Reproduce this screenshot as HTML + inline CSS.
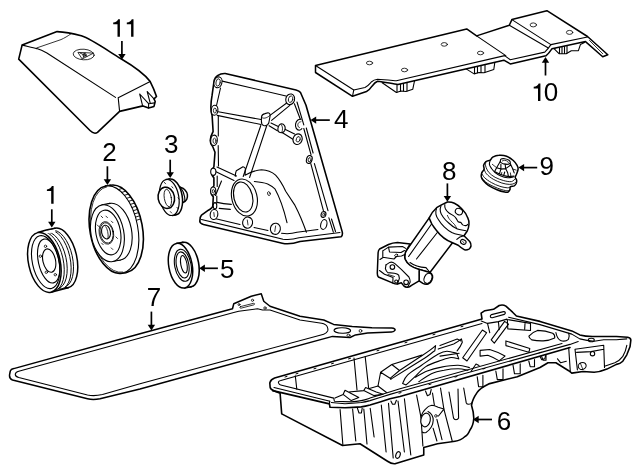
<!DOCTYPE html>
<html><head><meta charset="utf-8">
<style>
html,body{margin:0;padding:0;background:#fff;}
svg{display:block;}
text{font-family:"Liberation Sans",sans-serif;font-size:26px;fill:#000;}
.l{fill:none;stroke:#000;stroke-width:1.1;stroke-linecap:round;stroke-linejoin:round;}
.t{fill:none;stroke:#000;stroke-width:0.8;stroke-linecap:round;stroke-linejoin:round;}
.b{fill:none;stroke:#000;stroke-width:1.6;stroke-linecap:round;stroke-linejoin:round;}
.w{fill:#fff;stroke:#000;stroke-width:1.1;stroke-linejoin:round;}
.a{stroke:#000;stroke-width:1.7;fill:none;}
.h{fill:#000;stroke:none;}
</style></head>
<body>
<svg width="640" height="471" viewBox="0 0 640 471">
<rect width="640" height="471" fill="#fff"/>
<!-- PART 11 cover -->
<g id="p11">
<path class="b" d="M22.1 45.1L57.1 31.6C66 32 74 33.8 81.3 35.8C91 38.8 106 49.5 121 58.8C135 67 146 76 150.2 81.6C153 87 155 92 156.5 96.5L154 98.9L155.2 101.5L154 106.4L148.6 108L143 105.9L119.6 111.4L97.5 132.3C95 134.2 92.5 133 90 130.5L18.7 59.1Z"/>
<path class="l" d="M22.1 45.1C28 46.5 33 47.5 36.8 48.6C41 50 44 51.5 46.9 53L115.5 97.4"/>
<path class="t" d="M71.1 33.7C68 36 64 38.3 61 39.6L36.8 47.9"/>
<path class="l" d="M118.2 97.8L150.2 81.6M118.2 97.8L119.6 111.4"/>
<path class="l" d="M142.5 105.3L139.7 94L148.6 103.7L154.6 102.9M148.6 103.7V108M150.2 103.1L147.2 91.5L154 98.9"/>
<ellipse class="t" cx="83.7" cy="54.5" rx="10.5" ry="5.3" transform="rotate(4 83.7 54.5)"/>
<path class="t" d="M78.3 52.4L93.6 53.1L82.5 58.8ZM80 53L87 56.3M83 58L85 53"/>
<circle class="t" cx="84.5" cy="55" r="1.6"/>
</g>
<!-- PART 1 pulley -->
<g id="p1">
<g transform="rotate(-12.5 44.3 262.1)">
<ellipse class="w" style="stroke-width:1.5" cx="62" cy="261.8" rx="15.2" ry="30.4"/>
<ellipse class="w" style="stroke-width:.9" cx="58.6" cy="261.9" rx="14.3" ry="29"/>
<ellipse class="w" style="stroke-width:.9" cx="55.6" cy="262" rx="14.8" ry="30"/>
<ellipse class="w" style="stroke-width:.9" cx="52.2" cy="262.1" rx="14.2" ry="28.8"/>
<ellipse class="w" style="stroke-width:.9" cx="48.6" cy="262.2" rx="14.7" ry="29.9"/>
<rect x="44.3" y="231.9" width="17.7" height="3" fill="#fff" stroke="none"/>
<path class="b" d="M44.3 231.9C50 231.2 56 231 62 231.4M44.3 292.9L62 292.2"/>
<ellipse class="w" style="stroke-width:1.5" cx="44.3" cy="262.4" rx="15.8" ry="30.5"/>
<ellipse class="l" cx="45.6" cy="262.4" rx="13.2" ry="27"/>
<ellipse class="l" cx="48.8" cy="262" rx="10.3" ry="22.4"/>
<ellipse class="l" cx="49.4" cy="261.7" rx="6.3" ry="11.9"/>
</g>
<circle class="t" cx="45.5" cy="246.3" r="1.2"/>
<circle class="t" cx="40.4" cy="256.2" r="1.2"/>
<circle class="t" cx="46.3" cy="272.3" r="1.2"/>
<circle class="t" cx="55.3" cy="274.7" r="1.2"/>
</g>
<!-- PART 2 flywheel -->
<g id="p2">
<ellipse class="w" style="stroke-width:1.6" cx="118.5" cy="228.8" rx="23.9" ry="44.3" transform="rotate(-10.6 118.5 228.8)"/>
<path class="b" d="M105.8 186.1L110.3 185.2M122.1 273.2L126.6 272.3"/>
<ellipse class="w" style="stroke:none" cx="113.9" cy="229.6" rx="23.9" ry="44.3" transform="rotate(-10.6 113.9 229.6)"/>
<path class="b" d="M105.79 186.08A23.9 44.3 -10.6 0 0 122.09 273.17"/>
<path class="l" d="M105.79 186.08A23.9 44.3 -10.6 0 1 122.09 273.17"/>
<path class="t" d="M106.84 186.80A23.299999999999997 43.4 -10.6 0 0 122.81 272.12"/>
<path class="t" style="stroke-width:.9" d="M118.5 189.6L122.3 188.4M121.8 192.4L125.6 191.2M124.4 195.3L128.3 194.1M126.7 198.3L130.6 197.1M128.7 201.3L132.5 200.1M130.4 204.4L134.2 203.2M131.9 207.5L135.8 206.3M133.3 210.7L137.1 209.5M134.4 213.9L138.3 212.7M135.5 217.1L139.3 215.9M136.4 220.3L140.2 219.1"/>
<ellipse class="l" cx="115.2" cy="231.7" rx="16.4" ry="28.8" transform="rotate(-10.6 115.2 231.7)"/>
<path d="M102.1 204.9L109.9 203.4L120.5 260.0L112.7 261.5Z" fill="#fff" stroke="none"/>
<path class="l" d="M102.1 204.9L109.9 203.4M120.5 260.0L112.7 261.5"/>
<ellipse class="w" cx="107.4" cy="233.2" rx="16.4" ry="28.8" transform="rotate(-10.6 107.4 233.2)"/>
<ellipse class="l" cx="108.2" cy="232.5" rx="12.3" ry="22.6" transform="rotate(-10.6 108.2 232.5)"/>
<ellipse class="t" cx="106.4" cy="232.9" rx="7.2" ry="11.4" transform="rotate(-10.6 106.4 232.9)"/>
<ellipse class="t" cx="106.6" cy="232.9" rx="6.4" ry="10.3" transform="rotate(-10.6 106.6 232.9)"/>
<ellipse class="l" cx="106.0" cy="232.1" rx="4.4" ry="6.9" transform="rotate(-10.6 106.0 232.1)"/>
<path class="t" d="M105.8 226.7C107.5 229 108.5 234 108.1 237.7"/>
<path class="t" d="M101.1 216.1L102.7 217.7"/>
<path class="t" d="M105.9 216.1L107.5 217.7"/>
<path class="t" d="M111.3 221.1L112.9 222.7"/>
<path class="t" d="M97.3 225.0L98.9 226.6"/>
<path class="t" d="M115.9 236.9L117.5 238.5"/>
<path class="t" d="M101.6 243.1L103.2 244.7"/>
<path class="t" d="M111.2 247.9L112.8 249.5"/>
</g>
<!-- PART 3 flange -->
<g id="p3">
<path class="w" style="stroke-width:1.5" d="M179 186.5L181 187.5C183 188 184 188.8 185 189.9C186.5 191.5 187.2 193 187.4 194.5C187.6 196.5 187.4 198 186.8 199.2C186.2 200.3 185.6 201 184.8 201.5L182 203Z"/>
<path class="l" d="M181.3 188.7C182.8 190.5 184 193.5 184.6 196.9C184.9 198.8 184.9 200.3 184.8 201.5"/>
<ellipse class="w" style="stroke-width:1.5" cx="172.7" cy="196.9" rx="9.5" ry="18.2" transform="rotate(-10 172.7 196.9)"/>
<path d="M166.1 179.6L169.5 179.0L175.9 214.8L172.5 215.4Z" fill="#fff" stroke="none"/><path class="b" d="M166.1 179.6L169.5 179.0M175.9 214.8L172.5 215.4"/>
<ellipse class="w" style="stroke-width:1.2" cx="169.3" cy="197.5" rx="9.5" ry="18.2" transform="rotate(-10 169.3 197.5)"/>
<path d="M164.0 187.6L167.5 187.2L171.1 207.6L167.6 208.0Z" fill="#fff" stroke="none"/><path class="l" d="M164.0 187.6L167.5 187.2M171.1 207.6L167.6 208.0"/>
<ellipse class="w" style="stroke-width:1.5" cx="166.3" cy="197.8" rx="8.2" ry="10.7" transform="rotate(-10 166.3 197.8)"/>
<ellipse class="t" cx="167.8" cy="198.0" rx="3.5" ry="8.8" transform="rotate(-10 167.8 198.0)"/>
<path class="t" d="M164.4 182.4L165.6 183.8"/>
<path class="t" d="M171.8 186.6L173.0 188.0"/>
<path class="t" d="M178.0 197.9L179.2 199.3"/>
<path class="t" d="M176.9 207.3L178.1 208.7"/>
<path class="t" d="M170.4 211.6L171.6 213.0"/>
</g>
<!-- PART 5 seal -->
<g id="p5">
<ellipse class="w" style="stroke-width:1.6" cx="187.0" cy="264.6" rx="11.7" ry="22.6" transform="rotate(-10.5 187.0 264.6)"/>
<path d="M176.4 243.5L182.9 242.4L191.1 286.8L184.6 287.9Z" fill="#fff" stroke="none"/><path class="b" d="M176.4 243.5L182.9 242.4M191.1 286.8L184.6 287.9"/>
<ellipse class="w" style="stroke-width:1.5" cx="180.5" cy="265.7" rx="11.7" ry="22.6" transform="rotate(-10.5 180.5 265.7)"/>
<ellipse class="l" cx="182.9" cy="265.3" rx="8.2" ry="16.2" transform="rotate(-10.5 182.9 265.3)"/>
<ellipse class="l" cx="182.6" cy="264.9" rx="6.2" ry="13.2" transform="rotate(-10.5 182.6 264.9)"/>
<ellipse class="l" cx="183.9" cy="264.3" rx="3.1" ry="8.9" transform="rotate(-10.5 183.9 264.3)"/>
</g>
<!-- PART 4 timing cover -->
<g id="p4">
<!-- outer outline -->
<path class="b" d="M214.2 80.1C214.5 77.5 219 73.2 225.2 73.5L296 90C298.5 90.6 299.5 91 300.5 92.5L306 105.2L342.1 231.4C342.8 234 342.8 235.5 341 236.8L300 241.5C293 243.8 288 244.5 282.2 243.2L203.5 224.5C200.5 223.5 199.5 222 199.9 220.5C200 218 200.3 216.3 201.5 215.2L208.4 210.2C211.5 208.5 212.6 207.5 212.8 205.8L213.3 196.9C210.3 194 210.3 189.5 213.9 185.7V177.9C210.8 174.5 211 169.5 213.9 166.8L215 152.3L212.8 146.7C209.5 143.5 209.8 137.5 213.1 131.5L212.1 115.4C210.3 110.5 210.3 105 212.1 95.2Z"/>
<!-- inner flange line top/right -->
<path class="l" d="M222.2 81.1L286 96M297 102L303.8 124.9M306.3 128L313.1 153M314.4 163.6L328 210.6M328.9 217.8L333.4 232.3"/>
<path class="l" d="M294.4 103.7L301.2 121.5M303.8 128.5L311 154.7M310.8 163.6L323.4 210.6M331.5 219L335.5 231.5"/>
<!-- bottom flange lines -->
<path class="l" d="M201.5 219.5L283 239.2C288 240 293 239.6 299 237.8L340 232.5"/>
<path class="l" d="M210.5 217.5L240 224.5M254 227.5L268 230.5M281.5 233.3C287 234.2 292 233.8 297 232.3L318 229.5"/>
<!-- left inner lines -->
<path class="l" d="M220.5 88L216.5 105.5M218.3 116V136M218.2 145.5L218.5 166M217.2 176V186.5M216.8 196V203"/>
<!-- ribs -->
<path class="l" d="M218.2 111.8L262.5 119.8M217.2 115.4L261 124.5"/>
<path class="l" d="M268.6 116.4L287.7 102.3M271.6 120.4L289.8 105.3"/>
<path class="l" d="M260.8 125.5L243.2 176.5M266.8 125.5L249.6 177.5"/>
<path class="l" d="M271 123.1L279.3 126.9M284.4 128.9L294.6 133.9M269.1 125.7L277.4 130.8M282.5 132.7L293.3 139.5"/>
<path class="l" d="M217 167L236.5 176M215.5 171.5L234 180.5"/>
<!-- bolt bosses -->
<g class="w">
<ellipse cx="218" cy="82.3" rx="3.9" ry="5.5" transform="rotate(15 218 82.3)"/>
<ellipse cx="214.6" cy="110.2" rx="3.3" ry="5" transform="rotate(5 214.6 110.2)"/>
<ellipse cx="214" cy="140.3" rx="3.3" ry="5.2" transform="rotate(5 214 140.3)"/>
<ellipse cx="290.2" cy="99.3" rx="4.4" ry="5.4" transform="rotate(15 290.2 99.3)"/>
<path d="M301.5 119.5C299 118.5 296.3 120.5 295.6 123.8C295 127 296.5 130 299.2 130.2C300.5 130 301.5 129.3 302.2 128.2" /><path d="M300.8 121.8C299.2 121.8 298 123 297.8 124.8C297.8 126.5 298.6 127.6 299.8 127.6" style="stroke-width:.8"/>
<ellipse cx="297.6" cy="139.2" rx="4.5" ry="5.4" transform="rotate(20 297.6 139.2)"/>
<ellipse cx="309.3" cy="159.5" rx="2.8" ry="4" transform="rotate(15 309.3 159.5)"/>
<ellipse cx="323.8" cy="224.5" rx="3" ry="5" transform="rotate(15 323.8 224.5)"/>
<ellipse cx="323.5" cy="214.5" rx="2.4" ry="3" transform="rotate(15 323.5 214.5)"/>
<ellipse cx="214" cy="214.5" rx="3.8" ry="5" transform="rotate(10 214 214.5)"/>
<ellipse cx="247.6" cy="222.6" rx="5" ry="5.6" transform="rotate(10 247.6 222.6)"/>
<ellipse cx="275.4" cy="228.8" rx="5" ry="5.6" transform="rotate(10 275.4 228.8)"/>
<ellipse cx="213.3" cy="171.8" rx="2.6" ry="3.6"/>
<ellipse cx="213.2" cy="191" rx="2.6" ry="4"/>
<ellipse cx="215" cy="205.8" rx="1.8" ry="3.2"/>
</g>
<g class="t">
<ellipse cx="218.1" cy="82.4" rx="2.1" ry="3.7" transform="rotate(12 218.1 82.4)"/>
<ellipse cx="214.9" cy="110.6" rx="1.5" ry="2.5"/>
<ellipse cx="214.5" cy="140.8" rx="1.5" ry="2.6"/>
<ellipse cx="290.6" cy="99.2" rx="2.2" ry="3.3" transform="rotate(15 290.6 99.2)"/>
<ellipse cx="298.2" cy="139.3" rx="1.9" ry="2.8" transform="rotate(20 298.2 139.3)"/>
<ellipse cx="309.6" cy="159.8" rx="1.4" ry="2.2" transform="rotate(15 309.6 159.8)"/>
<ellipse cx="323.8" cy="214.6" rx="1.1" ry="1.5"/>
<ellipse cx="213.4" cy="191.2" rx="1.1" ry="1.8"/>
<ellipse cx="268.9" cy="193.6" rx="1.3" ry="2" transform="rotate(-15 268.9 193.6)"/>
</g>
<path class="t" d="M213.8 212.5L214.3 216.5M247.3 220L248 225M275.6 226L274.8 231.5"/>
<!-- junction boss -->
<path class="w" d="M261.5 117C261.8 115 263.5 113.8 265 113.6L268 112.8C269.8 113 270.5 114.5 270 116.5L268.8 123C268 125 265.5 126 263.5 125.5C262 124.8 261.3 123 261.4 121Z"/><path class="t" d="M261.6 117.3C263 119 266.5 118.5 269.8 115.5"/>
<path class="w" d="M278.6 126.2C279.5 124 281.5 123.3 283.2 124.2C285 125.5 285.5 128.5 284.6 130.8C283.5 132.8 281 133.3 279 132C277.8 130.8 277.8 128 278.6 126.2Z"/><path class="t" d="M281.2 124.5C282.8 126.5 283 129.5 281.8 132.5"/>
<!-- housing bulge -->
<path class="l" d="M235.3 176.2C235.3 173.5 235.8 171.8 236.3 170.7L243 166.7C244.2 166.8 245 167.5 245.4 168.7L245 175.2C250 172.5 256 170 261.5 169.8C267 170 272 172 275.6 175.2C280 180 283 185.5 285.7 191.3L295 205.4C299 213 303 222.5 306.4 232.3"/>
<path class="l" d="M254.3 181.5C260 182 265 183 267.7 183.9C272 186 274 188 274.9 188.8C280 198 284 210 287 222.7"/>
<path class="l" d="M221.5 181L215.5 195.5M217.2 202.4C221 203.5 226 204.2 231.3 204.4M219.2 208.4L230.3 209.4"/>
<!-- crank seal bore -->
<ellipse class="w" cx="244.4" cy="197.5" rx="12.6" ry="18.8" transform="rotate(-14 244.4 197.5)"/>
<ellipse class="l" cx="243.2" cy="197" rx="9.3" ry="15.3" transform="rotate(-14 243.2 197)"/>
</g>
<!-- PART 10 plate -->
<g id="p10">
<!-- clips (behind) -->
<path class="w" d="M382.2 82.7L396.4 92.5L401 91L406 91.5L412.8 89.2L414.6 80.5L396 78Z"/>
<path class="l" d="M397 83.5V92M400.5 83V91.2M403.5 82.5V91M407 81.5V91"/>
<path class="w" d="M465.3 68.4L474.1 73.9L479 72.5L484 72.8L493.8 69.5L494.9 61.9L470 60Z"/>
<path class="l" d="M474.5 66V73.5M477.5 65.5V72.8M481 64.5V72.5M485 63.5V72"/>
<path class="w" d="M554 48.7L559 53.7L566.2 53.7L571.3 50.7L578.4 50.7L580.4 44.6L584.5 42.6L570 38Z"/>
<path class="l" d="M559.5 46.5V53.5M562 46V53.5M564.5 45.5V53.5M567 45V53"/>
<!-- body silhouette -->
<path class="w" style="stroke-width:1.5" d="M315.5 65.5L466.7 28.9L476.6 35.9L509.3 25.3L511.9 19.6L546.9 10.7L587.5 36.5L607.8 54.8L602.7 56.8L585.5 41.6L552 48.7C550.5 51 549 53.5 545.9 55.8L510.3 63.9L503.8 60.2L398 84.4C393 84 385 82 377.5 81.3C375 82.3 373.5 84.2 372 86.2C370.5 88.5 369 90.4 366.5 91.5L352.5 96.3L315.5 72.5Z"/>
<!-- top-surface front edges -->
<path class="l" d="M315.5 65.5L353.75 90L365 87.5C368 86 369.5 84 371.3 82C373 80.5 375 79.6 377.5 79.3C384 79.5 391 80.3 396.4 80.8L504.7 55.6L510.3 59.8L544.8 52.1C547 50 549 47.5 550.9 44.6L587.5 37"/>
<path class="l" d="M353.75 90L352.5 96.3"/>
<!-- step & riser lines -->
<path class="l" d="M476.6 35.9L505.8 55.6"/>
<path class="l" d="M509.3 25.3L547.9 47.7M511.9 19.6L550.9 44.6"/>
<path class="t" d="M589.5 40.5L602.7 53.7"/>
<!-- holes -->
<g class="t">
<ellipse cx="369.5" cy="63" rx="3.1" ry="1.8"/>
<ellipse cx="404.5" cy="70" rx="3.1" ry="1.8"/>
<ellipse cx="444.3" cy="44.4" rx="3.1" ry="1.8"/>
<ellipse cx="480.5" cy="53" rx="3.1" ry="1.8"/>
<ellipse cx="533.3" cy="24.9" rx="3.2" ry="2"/>
<ellipse cx="569.6" cy="32.4" rx="3.2" ry="2"/>
</g>
</g>
<!-- PART 8 oil filter housing -->
<g id="p8">
<!-- cylinder body -->
<path class="w" style="stroke-width:1.5" d="M429.2 217.9L405.7 251.5C404.5 255 404.5 257.5 405.1 259.2C406.5 262.5 408 264 410.2 265.5C413 267.5 416 268.7 419.1 269.4L429.9 272.5L452.5 242.8L464 235.8Z"/>
<path class="l" d="M432.1 223.2L408.6 256.5M438.5 231L416.5 259M410 262.5C414 265.5 420 267.2 426 267.6L429.9 272.5"/>
<!-- outlet tube -->
<path class="w" style="stroke-width:1.5" d="M419.1 280.8L422.9 283.4C424.5 284.3 426.5 284.5 428 284C430 283 431.3 281.8 431.8 280.2C432.7 278.5 432.8 277 432.5 275.7C432 274 431 273 429.9 272.5L419.1 269.4Z"/>
<ellipse class="l" cx="428" cy="278.3" rx="3.7" ry="5.3" transform="rotate(25 428 278.3)"/>
<!-- bracket -->
<path class="w" style="stroke-width:1.5" d="M410.2 243.9L397.5 242.6C394 242.8 391 243.5 388.5 244.5L379.6 249C378.5 250 378.2 251.5 378.1 252.8L377.3 273.2C377.3 275 377.6 276.2 378.4 277L393.6 283.4C395 284 396.3 284.2 397.5 284L401.3 282.7L403.8 285.9C405 287 406.3 287.4 407.6 287.2C409 287 410.3 286.3 411.5 285.3L419.1 280.8L419.1 269.4C416 268.7 413 267.5 410.2 265.5C408 264 406.5 262.5 405.1 259.2C404.5 257.5 404.5 255 405.7 251.5Z"/>
<path class="l" d="M382.8 250.9L388.5 247.1L402.5 246.5L405.7 248.4M382.8 250.9V257.3L394 259M383 257.5L380 259.5M388.5 247.1L389.5 252L401 252.5L404.5 250.5M394 259L396.5 256.5L401.5 256L404.8 254.5"/>
<path class="l" d="M386 264.9L389.8 262.4C391.5 261.8 393.2 262.3 394.9 263.6L401.3 269.4L408.9 277C410 279 410.2 280.5 410.2 282.1L407.6 287.2"/>
<path class="l" d="M386 264.9L385.4 268.7C385.8 270.5 386.8 271.8 387.9 272.6L394.3 273.2C396.5 273.5 398 274.2 398.7 275.1L399.4 278.3L397.5 284"/>
<path class="l" d="M379.5 270.5L384.5 274.2L393 277.5L392.8 283"/>
<path class="t" d="M388 274.5L394.5 276.5"/>
<circle class="l" cx="392.4" cy="267.1" r="2.3"/>
<circle class="l" cx="406.1" cy="282.3" r="2.3"/>
<circle class="l" cx="396.2" cy="281.5" r="1.5"/>
<ellipse class="t" cx="396.2" cy="255.3" rx="1.6" ry="1.1" transform="rotate(-30 396.2 255.3)"/>
<!-- cap -->
<path class="w" style="stroke-width:1.5" d="M429.2 217.9C431 213.5 433.5 210.5 436.6 207.7L441 205.2L447.4 202C450 201.8 452.3 202.3 454.4 203.3C457.5 204.8 460 206.8 462 209C464.8 211.8 466.6 214.8 467.8 217.9C468.8 220 469.2 222.2 469 224.3C468.8 227 468.2 229.3 467.1 231.3L464 235.8L469.7 241.5C470.8 243 471.2 244.5 471 246C470.7 247.5 470 248.5 469 249.1C467.5 249.8 466 250 464.6 249.8C462 248.5 460 247 458.2 245.3L452.5 242.8C446 240.3 441 236.5 436.5 230.5C433 226.5 430.5 222.5 429.2 217.9Z"/>
<path class="l" d="M436.6 208.4C435.7 210.5 435.5 212.3 435.9 214.1C436.3 216.2 437.2 218 438.5 219.8C440 222.3 442 224.7 444.2 226.8C446.5 229 449 231 451.8 232.6C454 233.7 456 234.2 458.2 234.5L464 235.8"/>
<path class="l" d="M441 205.8C440.2 207.8 440 209.7 440.4 211.6C440.8 213.5 441.7 215.2 442.9 216.7C444.5 219 446.5 221.2 448.7 223C451 225.3 454 227.3 456.9 228.8C458.5 229.5 460.3 229.9 462 230L465.9 230.7"/>
<path class="l" d="M444.8 204.6C444.6 206.3 444.9 207.8 445.5 209C446.3 210.5 447.4 211.8 448.7 212.8C450.2 213.8 451.7 214.6 453.1 215.4C454.5 216.3 455.5 217.4 456.3 218.6C457 219.8 457.5 220.9 458.2 221.8C459 222.3 459.9 222.3 460.8 222.4C461.5 223.2 462 224.2 462.7 224.9C463.7 225.5 464.8 225.7 465.9 225.6C466.7 225.4 467.3 224.9 467.8 224.3"/>
<path class="t" d="M447.4 215.4C448.2 217.5 449.3 219.2 450.6 220.5C451.8 222 453.2 223.2 454.4 224.3C455.5 225.8 456.3 227.3 456.9 228.8"/>
<path class="l" d="M464 235.8C461 236.3 458.5 237.5 456.8 239.3"/>
<ellipse class="l" cx="458.9" cy="211.6" rx="3.7" ry="3.1" transform="rotate(25 458.9 211.6)"/>
<ellipse class="l" cx="463.3" cy="241.9" rx="2.9" ry="2.2" transform="rotate(25 463.3 241.9)"/>
<path class="t" d="M462.5 241.3L464.3 243"/>
</g>
<!-- PART 9 cap -->
<g id="p9">
<path class="w" style="stroke-width:1.5" d="M490.3 160.0C491.5 159.3 491.3 158.0 492.7 157.2C494.2 156.4 496.6 155.4 498.9 155.3C501.3 155.1 504.2 155.3 506.6 156.2C509.0 157.1 511.5 159.0 513.3 160.5C515.0 162.0 516.3 163.9 517.1 165.3C517.9 166.7 518.2 167.7 518.1 169.1C518.0 170.6 517.1 172.6 516.6 173.9C516.2 175.3 515.2 176.2 515.2 177.3C515.2 178.3 516.5 179.1 516.6 180.1C516.8 181.2 516.6 182.5 516.2 183.5C515.8 184.4 515.2 185.3 514.2 185.9C513.3 186.4 511.1 186.2 510.4 186.8C509.7 187.5 510.3 188.8 509.9 189.7C509.5 190.6 508.9 191.7 508.0 192.1C507.2 192.5 506.5 192.5 504.7 192.1C502.9 191.7 499.7 190.8 497.0 189.7C494.3 188.6 490.7 186.9 488.4 185.4C486.1 183.9 484.4 182.0 483.2 180.6C482.0 179.2 481.5 178.0 481.3 176.8C481.0 175.5 481.3 174.2 481.7 172.9C482.2 171.7 483.8 170.4 484.1 169.1C484.4 167.8 483.3 166.6 483.6 165.3C484.0 164.0 484.9 162.4 486.0 161.5C487.2 160.6 489.2 160.8 490.3 160.0Z"/>
<path class="l" style="stroke-width:.9" d="M486.0 161.7C486.0 162.4 485.1 164.0 485.6 165.8C486.0 167.6 487.3 170.6 488.9 172.5C490.5 174.4 492.7 175.9 495.1 177.3C497.6 178.6 501.0 179.9 503.7 180.6C506.4 181.3 509.4 181.9 511.4 181.6C513.3 181.2 514.7 179.2 515.4 178.7"/>
<path class="l" style="stroke-width:.9" d="M484.1 169.1C484.5 169.9 485.0 172.2 486.5 173.9C488.0 175.6 490.7 177.7 493.2 179.2C495.8 180.7 499.1 182.1 501.8 183.0C504.5 183.9 507.4 184.3 509.5 184.4C511.5 184.5 513.1 183.9 514.2 183.5C515.4 183.0 516.0 181.9 516.4 181.6"/>
<path class="l" style="stroke-width:.9" d="M481.7 173.4C482.2 174.1 483.0 176.2 484.6 177.7C486.2 179.2 488.7 181.1 491.3 182.5C493.8 183.9 497.2 185.5 499.9 186.3C502.6 187.2 505.8 187.7 507.6 187.8C509.3 187.8 509.9 187.0 510.4 186.8"/>
<path class="l" style="stroke-width:.9" d="M481.5 177.3C482.1 178.0 483.6 180.5 485.6 182.0C487.5 183.5 490.5 185.1 493.2 186.3C495.9 187.6 499.3 188.9 501.8 189.7C504.3 190.4 506.7 190.8 508.0 190.8C509.4 190.8 509.6 189.9 509.9 189.7"/>
<path class="l" d="M490.3 160.0C490.2 160.8 489.2 163.0 489.4 164.3C489.5 165.7 490.3 166.8 491.3 168.2C492.3 169.5 493.5 171.2 495.1 172.5C496.7 173.8 498.8 175.1 500.9 176.0C502.9 176.9 505.4 177.6 507.6 177.7C509.7 177.9 512.7 176.9 513.8 176.8"/>
<path class="l" d="M500.4 161.0C500.4 160.4 500.3 159.5 501.1 159.1C501.8 158.7 503.4 158.6 504.7 158.8C506.0 159.0 508.1 159.6 509.0 160.3C509.9 161.0 510.4 162.2 510.2 162.9C510.1 163.6 509.1 164.2 508.0 164.3C506.9 164.5 505.0 164.2 503.7 163.9C502.5 163.5 501.2 162.9 500.7 162.4C500.1 162.0 500.3 161.6 500.4 161.0Z"/>
<path class="t" d="M502.3 161.0C502.7 160.9 503.8 160.3 504.7 160.3C505.6 160.4 506.9 160.9 507.6 161.3C508.2 161.7 508.2 162.6 508.3 162.9"/>
<path class="l" d="M500.4 161.3L496.6 167.7L494.6 171.5M496.6 167.7L500.9 169.1L505.6 168.6L510.4 165.3M500.9 169.1L499.4 173.9M505.6 168.6L505.2 164.3M510.2 163.4L512.8 169.1L514.2 172.9M494.6 171.5L499.4 173.9L503.7 175.6L508.5 176.6L514.2 176.0M505.6 168.6L507.6 172.5L508.5 176.6M503.7 175.6L504.7 172.0M500.9 164.3L500.9 169.1"/>
<path class="t" d="M492.3 164.3L496.6 167.7M512.8 169.1L516.2 170.1M510.4 172.9L510.9 176.3M501.8 172.5L501.3 174.7"/>
</g>
<!-- PART 7 gasket -->
<g id="p7">
<path class="w" style="stroke-width:1.5" d="M10.3 371C10.8 369.6 12 369 13.75 368.6L140 333.75L232.5 308.75L233.75 303.75L251.25 296.25L261.25 293.75L263.75 301.25L270 306.25L300 316.25L323.75 320L333.6 324.4L352.2 326.6L371.9 327.7L391.6 328.1C394.5 328.3 395.5 329.2 394.9 330.3C394.3 331.6 393.2 332 391.6 332L367.5 333.1L355.5 334.9L350 337.5L332.5 336.4L200 372.5L140 389L100 398.75C95 399.8 91 399.7 87.5 398.75L12.5 380C10 379 9.3 376.5 9.6 374.5Z"/>
<path class="w" d="M15.3 374.2C15.5 372.8 16.5 371.9 18.75 371.25L140 338L233.75 312.5L238.75 311.25L257.5 308.75L262.5 310L270 310L300 320L321.6 323.3C325 324 326.5 325 327.2 326.6C328 328.5 328.2 329.6 327.7 330.9C327 332.6 325.8 333.6 323.75 334.2L200 367.5L140 383.7L102.5 394.5C96 396 91.5 395.8 87.5 395L18.75 377.5C16 376.7 15.2 375.8 15.3 374.2Z"/>
<path class="t" d="M240.5 306.6L253.5 303.3C254.8 303.2 255 304.3 254 304.8L241 308.2C239.6 308.3 239.4 307.2 240.5 306.6Z"/>
<circle class="t" cx="239" cy="304.6" r="1"/>
<circle class="t" cx="252.5" cy="300.3" r="1.1"/>
<circle class="t" cx="265" cy="308" r="1.2"/>
<ellipse class="l" cx="342.3" cy="330.5" rx="8.3" ry="2.7" transform="rotate(2 342.3 330.5)"/>
<circle class="t" cx="360.5" cy="330.9" r="1.4"/>
<ellipse class="t" cx="348.5" cy="335.3" rx="1.6" ry="1.1"/>
</g>
<!-- PART 6 oil pan -->
<g id="p6">
<!-- silhouette fill -->
<path class="w" style="stroke-width:1.6" d="M274.6 378.1L482 318.9L481.1 313.2L484.9 310.7L493.5 309.3L499.2 305.5C501.5 304.8 504 305 505.9 306.1L512.6 312.2L516.4 316L540 321.4L571.8 330.9L579.8 334.9C584 336 588 336.4 592.5 336.5L616.4 336.5L627.6 337.3C630 337.8 631 339 630.8 340.5L630 346.8L626.8 354.8L622.8 361.2C621 363 619 364 616.4 364.4L606.9 369.1C602 371.2 598 372.2 594.1 372.3L583 371.5L571.8 373.1L568.7 370.7L555.9 362.8L548 362.8L540 367.5L517.3 376.7L488.7 383.9C483 386.5 479.5 389 477.2 392.4C474 397 472 401.5 471.5 405.3C472.8 409.5 473.8 414 473.8 418.2C473.5 423 472.5 426.5 470 430C468.5 433.5 467 435.5 465 436.5C462 439.5 458.5 440.8 455 441.25L437.5 443.75L423.75 447.5V455L395 463.75C392.5 464 390 463 387.5 461.25L360 443.75L342.5 445.5L281.7 413.9L280.1 393.2L273.8 390.8C271 389.5 270 388.3 270.1 386.8L269.8 382.9C270.5 380.5 272.2 379 274.6 378.1Z"/>
<!-- rim: front-left edges -->
<path class="b" d="M272.6 390.6L329.4 403.9L330 407.25L345 407.75C351 407.7 356 407.4 361.25 406.9C364.5 406.4 367 405.8 370 405L380 401.9L390 398.75L400 396.5L570 347.5"/>
<path class="l" d="M274 387.5L330 401.2M331.25 402.5L345 403.75C351 403.6 356 403.1 361.25 402.5C364.5 402 367 401.4 370 400.6L380 397.5L390 394.4L400 391.5L570 344.4L578.2 341.5"/>
<path class="l" d="M329.4 403.9L329.6 401.2"/>
<!-- rim inner lines -->
<path class="l" d="M280.9 380.5L482 323.5M278.5 382.9C278.2 381.6 279 380.9 280.9 380.5M278.5 382.9C279 384.2 279.8 384.8 280.75 385L333.75 398.1L334.4 401.25L351.25 401.9C355 401.6 358 401.2 361.25 400.6C364.5 400 367 399.1 370 398.1L380 395L400 388.75L562 343.5"/>
<!-- back rim, right part -->
<path class="l" d="M508.6 317.2L540 324.6L571.8 334.1L579.8 338.9C585 340.3 589 341 594.1 341.3L603.7 339.7L616.4 339.7L626.8 338.9"/>
<!-- left wall + bottom -->
<path class="l" d="M340.1 409.6L342.9 445.2"/>
<!-- front wall ribs -->
<path class="l" d="M352.6 409L355.8 441M363.8 409L367 444M370.2 408.2L374.1 437M381.3 405L386.1 452M388.5 403.4L393.2 458M398 401L404.4 452M404.4 398.7L410.8 455M416.6 395.1L421 417.4M425.5 391L427.4 395.7L430 394.5L431.2 389.5M432.5 393L434.4 405.3M440.5 388L443.9 409.1"/>
<path class="l" d="M357.4 408.2L359 413L361.4 413L362.2 408.2M390.9 401L392.5 404.2L394.8 404.2L396.4 400.3"/>
<!-- drain boss -->
<path d="M421 417.4C421.8 413.5 423.5 410.8 425.5 409.1C427.5 406.8 429.5 405.6 431.8 405.3C434 405.5 436 406.3 438.2 407.2L443.9 409.1L452.2 441L436.9 441.6L422.9 446Z" fill="#fff" stroke="none"/>
<path class="l" d="M421 417.4C421.8 413.5 423.5 410.8 425.5 409.1C427.5 406.8 429.5 405.6 431.8 405.3C434 405.5 436 406.3 438.2 407.2L443.9 409.1L452.2 441M421 417.4L422.9 446M436.9 419.3L442 439.7M438.5 416L443.9 409.1M433.1 428.2L436.9 441"/>
<ellipse class="w" cx="425.6" cy="420" rx="4.7" ry="6.9" transform="rotate(12 425.6 420)"/>
<path class="l" d="M428 411.5C431.5 413.5 433.3 417 433.2 420.5C433 425 430.5 429.5 426 432.5C424.5 433 423.2 432.8 422.2 432"/>
<circle class="t" cx="435.9" cy="415.9" r="1.3"/>
<path class="l" d="M449 392L453.5 418C454.3 420.3 457.6 420.3 458.6 418L458 389M463.7 388L466.2 402.7C467 404.8 470.5 404.8 472 402.7"/>
<ellipse class="l" cx="398" cy="455" rx="2.1" ry="3.5" transform="rotate(20 398 455)"/>
<!-- right-part slots -->
<path class="l" d="M477.2 376.7L478.6 386.7L482.9 386.7L482.9 375.2M495.8 371L497.3 379.6L503 379.6L503 368.9M513 365.2L514.5 373.8L520.2 373.8L520.2 363.8M528.8 361L530.2 366.7L534.5 366.7L534.5 359.5M541.7 356.6L543.1 360.3L546 360.3L546 355.2"/>

<!-- right box -->
<path class="l" d="M568.7 347.6L570.3 371.5M575 349.2L577.4 369.9M603.7 345.3L604.5 367.5M575 349.2L603.7 345.3M576.6 352.4L591 351.6L603.7 349.2M626.8 345.3C626 350 624.5 353.5 622.8 356.4C620.5 359.5 618 361.5 614.8 362.8L605.3 366"/>
<circle class="l" cx="592.5" cy="353.7" r="2.2"/>
<ellipse class="l" cx="582.2" cy="366" rx="4" ry="3.4" transform="rotate(-20 582.2 366)"/>
<path class="t" d="M580.5 363.5L582.5 368.5"/>
<ellipse class="l" cx="591.3" cy="340" rx="3" ry="1.8"/>
<path class="l" d="M555.9 332.5C556.5 336 558 339 560.5 340.5C563.5 341.6 566.5 341 568.5 339.3C569.5 337.5 569.5 335.5 568.7 333.3"/>
<path class="l" d="M540 356.4L541.6 359.6L544.8 358.8L545.6 355.6M557.5 358.8L560.7 362.8L566.3 361.2"/>
<!-- interior baffles -->
<g class="l">
<path d="M380.6 372.3L391.8 364.5L421.9 355.1M391.8 364.5L399.5 370.5M380.6 372.3L390.1 378.3L399.5 370.5M380.6 372.3L378 386M390.1 378.3L390.9 379.1"/>
<path d="M399.5 370.5L420.2 356.8C426 353 431.5 349.5 435.6 345.6L434.8 350.8C431 353.5 428 356 425.3 357.7L411.6 366.3L390.9 379.1"/>
<path d="M402.6 383.5C403.4 382.1 404.3 378.1 407.5 375.1C410.7 372.0 416.4 368.8 421.6 365.2C426.7 361.7 434.2 356.3 438.4 354.0C442.7 351.6 443.8 351.3 446.9 351.2C449.9 351.1 455.1 352.9 456.7 353.3L458.8 358.9C457.5 358.7 454.0 357.3 451.1 357.5C448.2 357.7 445.5 358.8 441.3 360.3C437.0 361.8 430.2 363.8 425.8 366.6C421.3 369.5 417.8 374.1 414.5 377.2C411.3 380.2 407.5 383.6 406.1 384.9Z"/>
<path d="M415.2 377.2C417.2 376.1 422.9 372.5 427.2 370.9C431.5 369.2 436.1 368.0 441.3 367.1C446.4 366.1 453.4 365.1 458.1 365.2C462.8 365.3 467.5 367.2 469.4 367.6M418.8 381.7C420.9 380.4 427.2 375.6 431.4 373.7C435.6 371.8 439.6 371.0 444.1 370.2C448.5 369.3 454.1 368.8 458.1 368.8C462.1 368.8 466.3 369.9 468.0 370.2"/>
<path d="M438.2 349.1L453.7 343.9C456.5 342.5 459 340.8 461.4 338.8L462.3 342.2C461 345.5 459.2 348.3 457.1 350.8"/>
<path d="M440 345.6L457.2 339L461 340.9M440 356.1L459.1 353.3"/>
<path d="M462.7 357.7L482.4 330L486.6 332.8L467 361Z"/>
<path d="M491.2 339.9L504.6 321.4L508.5 324.1L494.3 343.2Z"/>
<path d="M480.1 350.4L489.7 349.5C495 351 500 353.3 505 356.1L499.2 360.9C495.5 358.5 491.5 356.5 487.8 355.2L480.1 356.1Z"/>
<path d="M505.9 340.9L529.8 348.5L528.9 352.3L505.9 345.6Z"/>
<path d="M528.9 336.1C531 333.5 534 331.5 537.5 330.4C543 330.5 548 331.5 552.7 333.2C554.5 334.5 555 336.2 554.7 338C551 339.8 547 340.7 543.2 340.9C539 341 535 340.6 531.7 339.9C530 338.8 529 337.5 528.9 336.1Z"/>
<path d="M481.25 321.1L487.5 323.4L489.8 332.8M487.5 323.4L498.4 321.6L499.2 329.7M498.4 321.6L507 319.1M507.3 319.5L530.5 323.4L530.5 330.5L507.8 328.9ZM525 323.4L524.7 328.9"/>
<path d="M365.2 356.8L368.6 387.7"/>
<path d="M343.1 394.4L345 390.25L358.75 397.5L351.25 400.6ZM335 398.1L343.1 394.4M348.5 392L363.75 390.6M363.75 390.6L365.6 387.5L376.25 391.9L383 394.2M363.75 390.6L373.75 395.6L382.5 394.4M369.4 388.5L378 386M378 386L386.5 392.5"/>
<path d="M471 371.5L476 364L479 365.5"/>
</g>
<!-- interior: back wall & baffles -->
<path class="l" d="M295.3 375.7L296.8 389.2M354 358L357 390"/>
<path class="l" style="stroke-width:1" d="M285.0 377.0L287.0 376.4M296.0 373.9L298.0 373.3M314.0 368.8L316.0 368.2M331.5 363.8L333.5 363.2M348.5 358.9L350.5 358.3M377.0 350.8L379.0 350.2M405.0 342.8L407.0 342.2M433.0 334.8L435.0 334.2M461.0 326.8L463.0 326.2M399.0 393.2L401.0 392.6M429.0 384.6L431.0 384.0M455.0 377.1L457.0 376.5M483.0 369.0L485.0 368.4M511.0 360.9L513.0 360.3M539.0 352.9L541.0 352.3"/>
<!-- tab slot -->
<path class="l" d="M491.5 314.6L503.5 311.6C505.6 311.5 506 313.6 504.3 314.4L492.3 317.8C490 318 489.6 315.6 491.5 314.6Z"/>
</g>
<!-- LABELS -->
<defs><mask id="m"><rect width="640" height="471" fill="#fff"/></mask></defs>
<g id="labels" mask="url(#m)">
<g aria-label="11"><path class="h" d="M119.9 19.2L119.9 36.8L117.5 36.8L117.5 24.2L113.2 24.2L113.2 22.5C115.7 22.4 117.5 21.2 118.2 19.2Z"/><path class="h" d="M133.5 19.2L133.5 36.8L131.1 36.8L131.1 24.2L126.8 24.2L126.8 22.5C129.3 22.4 131.1 21.2 131.8 19.2Z"/></g>
<path class="a" d="M121.9 41V54.8"/><path class="h" d="M118.2 54.1H125.6L121.9 59.8Z"/>
<text x="102.3" y="161.3">2</text>
<path class="a" d="M107.4 166.3V180"/><path class="h" d="M103.7 179.3H111.1L107.4 185Z"/>
<g aria-label="1"><path class="h" d="M53.6 186.1L53.6 203.7L51.2 203.7L51.2 191.1L46.9 191.1L46.9 189.4C49.4 189.3 51.2 188.1 51.9 186.1Z"/></g>
<path class="a" d="M51.8 209.3V222.5"/><path class="h" d="M48.1 221.8H55.5L51.8 227.5Z"/>
<text x="164" y="153.1">3</text>
<path class="a" d="M170.2 159.7V173"/><path class="h" d="M166.5 172.3H173.9L170.2 178Z"/>
<text x="334.1" y="127.8">4</text>
<path class="a" d="M329.8 120.1H315.5"/><path class="h" d="M316.2 116.4V123.8L310.5 120.1Z"/>
<text x="219.9" y="278">5</text>
<path class="a" d="M217.9 268.3H204.2"/><path class="h" d="M204.9 264.6V272.0L199.2 268.3Z"/>
<text x="496.8" y="430">6</text>
<path class="a" d="M492 419.5H478"/><path class="h" d="M478.7 415.8V423.2L473 419.5Z"/>
<text x="146.8" y="305.5">7</text>
<path class="a" d="M151.4 311.6V325.5"/><path class="h" d="M147.7 324.8H155.1L151.4 330.5Z"/>
<text x="442.1" y="180.2">8</text>
<path class="a" d="M447.4 183.4V196.7"/><path class="h" d="M443.7 196.0H451.1L447.4 201.7Z"/>
<text x="539.4" y="174.7">9</text>
<path class="a" d="M537.2 167.6H523.4"/><path class="h" d="M524.1 163.9V171.3L518.4 167.6Z"/>
<g aria-label="10"><path class="h" d="M540.4 83.5L540.4 101.1L538.0 101.1L538.0 88.5L533.7 88.5L533.7 86.8C536.2 86.7 538.0 85.5 538.7 83.5Z"/><text x="543.7" y="101.3">0</text></g>
<path class="a" d="M545.5 75.5V62"/><path class="h" d="M541.8 62.7H549.2L545.5 57Z"/>
</g>
</svg>
</body></html>
